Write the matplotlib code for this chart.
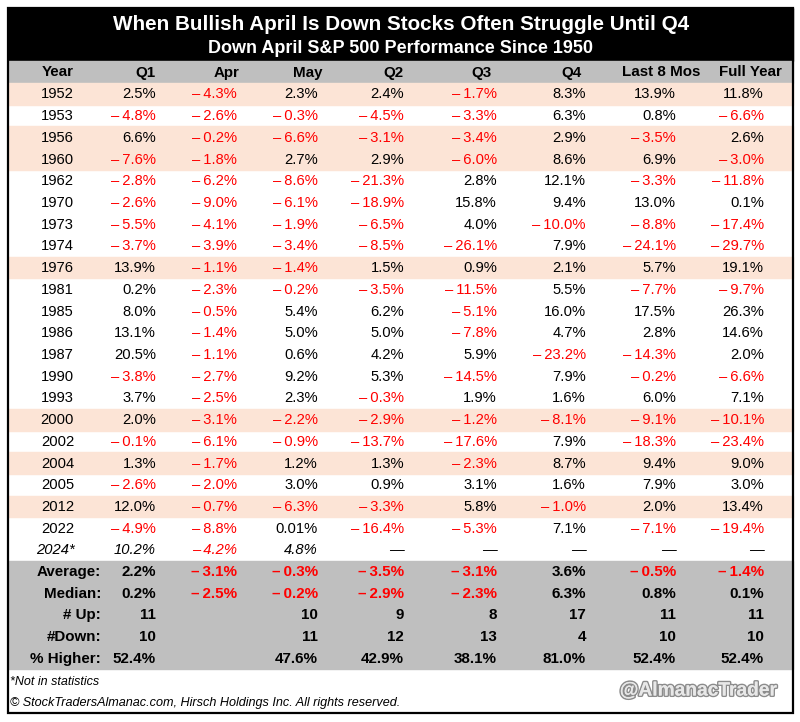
import matplotlib
matplotlib.use("Agg")
import matplotlib.pyplot as plt
import matplotlib.patheffects as pe
from matplotlib.patches import Rectangle

plt.rcParams['font.family'] = ['Liberation Sans', 'DejaVu Sans']

title = "When Bullish April Is Down Stocks Often Struggle Until Q4"
subtitle = "Down April S&P 500 Performance Since 1950"
columns = ["Year", "Q1", "Apr", "May", "Q2", "Q3", "Q4", "Last 8 Mos", "Full Year"]

years = ["1952", "1953", "1956", "1960", "1962", "1970", "1973", "1974", "1976",
         "1981", "1985", "1986", "1987", "1990", "1993", "2000", "2002", "2004",
         "2005", "2012", "2022"]
highlighted = ["1952", "1956", "1960", "1976", "2000", "2004", "2012"]

q1 = [2.5, -4.8, 6.6, -7.6, -2.8, -2.6, -5.5, -3.7, 13.9, 0.2, 8.0, 13.1, 20.5,
      -3.8, 3.7, 2.0, -0.1, 1.3, -2.6, 12.0, -4.9]
apr = [-4.3, -2.6, -0.2, -1.8, -6.2, -9.0, -4.1, -3.9, -1.1, -2.3, -0.5, -1.4,
       -1.1, -2.7, -2.5, -3.1, -6.1, -1.7, -2.0, -0.7, -8.8]
may = [2.3, -0.3, -6.6, 2.7, -8.6, -6.1, -1.9, -3.4, -1.4, -0.2, 5.4, 5.0, 0.6,
       9.2, 2.3, -2.2, -0.9, 1.2, 3.0, -6.3, 0.01]
q2 = [2.4, -4.5, -3.1, 2.9, -21.3, -18.9, -6.5, -8.5, 1.5, -3.5, 6.2, 5.0, 4.2,
      5.3, -0.3, -2.9, -13.7, 1.3, 0.9, -3.3, -16.4]
q3 = [-1.7, -3.3, -3.4, -6.0, 2.8, 15.8, 4.0, -26.1, 0.9, -11.5, -5.1, -7.8, 5.9,
      -14.5, 1.9, -1.2, -17.6, -2.3, 3.1, 5.8, -5.3]
q4 = [8.3, 6.3, 2.9, 8.6, 12.1, 9.4, -10.0, 7.9, 2.1, 5.5, 16.0, 4.7, -23.2,
      7.9, 1.6, -8.1, 7.9, 8.7, 1.6, -1.0, 7.1]
last8 = [13.9, 0.8, -3.5, 6.9, -3.3, 13.0, -8.8, -24.1, 5.7, -7.7, 17.5, 2.8,
         -14.3, -0.2, 6.0, -9.1, -18.3, 9.4, 7.9, 2.0, -7.1]
full_year = [11.8, -6.6, 2.6, -3.0, -11.8, 0.1, -17.4, -29.7, 19.1, -9.7, 26.3,
             14.6, 2.0, -6.6, 7.1, -10.1, -23.4, 9.0, 3.0, 13.4, -19.4]

# 2024 (not in statistics); None = not yet available
year_2024 = "2024*"
vals_2024 = [10.2, -4.2, 4.8, None, None, None, None, None]

stat_labels = ["Average:", "Median:", "# Up:", "#Down:", "% Higher:"]
stat_average = [2.2, -3.1, -0.3, -3.5, -3.1, 3.6, -0.5, -1.4]
stat_median = [0.2, -2.5, -0.2, -2.9, -2.3, 6.3, 0.8, 0.1]
stat_up = [11, None, 10, 9, 8, 17, 11, 11]
stat_down = [10, None, 11, 12, 13, 4, 10, 10]
stat_higher = [52.4, None, 47.6, 42.9, 38.1, 81.0, 52.4, 52.4]

footnote = "*Not in statistics"
copyright_text = "\u00a9 StockTradersAlmanac.com, Hirsch Holdings Inc. All rights reserved."
watermark = "@AlmanacTrader"

RED = "#FF0000"
PEACH = "#FCE4D6"
GRAY = "#BFBFBF"


def fmt(v):
    if v is None:
        return "\u2014"
    d = 2 if 0 < abs(v) < 0.05 else 1
    s = f"{abs(v):.{d}f}%"
    return "\u2013\u2009" + s if v < 0 else s


def main():
    W, H = 800, 722
    fig = plt.figure(figsize=(W / 100, H / 100), dpi=100)
    ax = fig.add_axes([0, 0, 1, 1])
    ax.set_xlim(0, W)
    ax.set_ylim(H, 0)
    ax.axis('off')

    left, right, top, bottom = 8, 793, 8, 713
    title_bot = 61
    head_h = 22
    row_h = 21.72
    stat_h = 21.6
    # right edges of text columns
    col_x = [74, 156, 237, 318, 404, 497, 586, 676, 764]
    head_x = [74, 155, 239, 323, 403, 492, 582, 700, 782]
    fs = 10.6

    # title band
    ax.add_patch(Rectangle((left, top), right - left, title_bot - top,
                           color='black', zorder=1))
    ax.text(401, 24, title, color='white', fontsize=14.9, fontweight='bold',
            ha='center', va='center')
    ax.text(401, 48.5, subtitle, color='white', fontsize=12.95, fontweight='bold',
            ha='center', va='center')

    # header
    ax.add_patch(Rectangle((left, title_bot), right - left, head_h, color=GRAY, zorder=1))
    for c, x in zip(columns, head_x):
        ax.text(x, title_bot + head_h / 2 + 0.5, c, fontsize=10.9, fontweight='bold',
                ha='right', va='center')

    # data rows
    body_top = title_bot + head_h
    series = [q1, apr, may, q2, q3, q4, last8, full_year]
    for i, yr in enumerate(years):
        y0 = body_top + i * row_h
        if yr in highlighted:
            ax.add_patch(Rectangle((left, y0), right - left, row_h, color=PEACH, zorder=1))
        yc = y0 + row_h / 2 + 0.5
        ax.text(col_x[0], yc, yr, fontsize=fs, ha='right', va='center')
        for j, s in enumerate(series):
            v = s[i]
            ax.text(col_x[j + 1], yc, fmt(v), fontsize=fs, ha='right', va='center',
                    color=RED if v < 0 else 'black')

    # 2024 row
    y0 = body_top + len(years) * row_h
    yc = y0 + row_h / 2 + 0.5
    ax.text(col_x[0] + 1, yc, year_2024, fontsize=fs, style='italic', ha='right', va='center')
    for j, v in enumerate(vals_2024):
        ax.text(col_x[j + 1], yc, fmt(v), fontsize=fs, style='italic', ha='right', va='center',
                color=RED if (v is not None and v < 0) else 'black')

    # statistics band
    stat_top = y0 + row_h
    ax.add_patch(Rectangle((left, stat_top), right - left, stat_h * 5, color=GRAY, zorder=1))
    stats = [stat_average, stat_median, stat_up, stat_down, stat_higher]
    for k, (lab, vals) in enumerate(zip(stat_labels, stats)):
        yc = stat_top + k * stat_h + stat_h / 2 + 0.5
        ax.text(101, yc, lab, fontsize=10.9, fontweight='bold', ha='right', va='center')
        for j, v in enumerate(vals):
            if v is None:
                continue
            if k in (2, 3):
                txt = str(v)
            else:
                txt = fmt(v)
            ax.text(col_x[j + 1], yc, txt, fontsize=10.9, fontweight='bold', ha='right',
                    va='center', color=RED if v < 0 else 'black')

    # footer
    ax.text(10, 682, footnote, fontsize=9.0, style='italic', ha='left', va='center')
    ax.text(10, 703, copyright_text, fontsize=9.1, style='italic', ha='left', va='center')
    ax.text(776, 691, watermark, fontsize=13.8, fontweight='bold', ha='right', va='center',
            family=['Liberation Sans Narrow', 'Liberation Sans'], color='#E8E8E8',
            path_effects=[pe.withStroke(linewidth=2.2, foreground='#8C8C8C'), pe.Normal()])

    # outer border
    ax.add_patch(Rectangle((left, top), right - left, bottom - top, fill=False,
                           edgecolor='black', linewidth=1.6, zorder=5))

    fig.savefig('out.png', dpi=100)


if __name__ == '__main__':
    main()
